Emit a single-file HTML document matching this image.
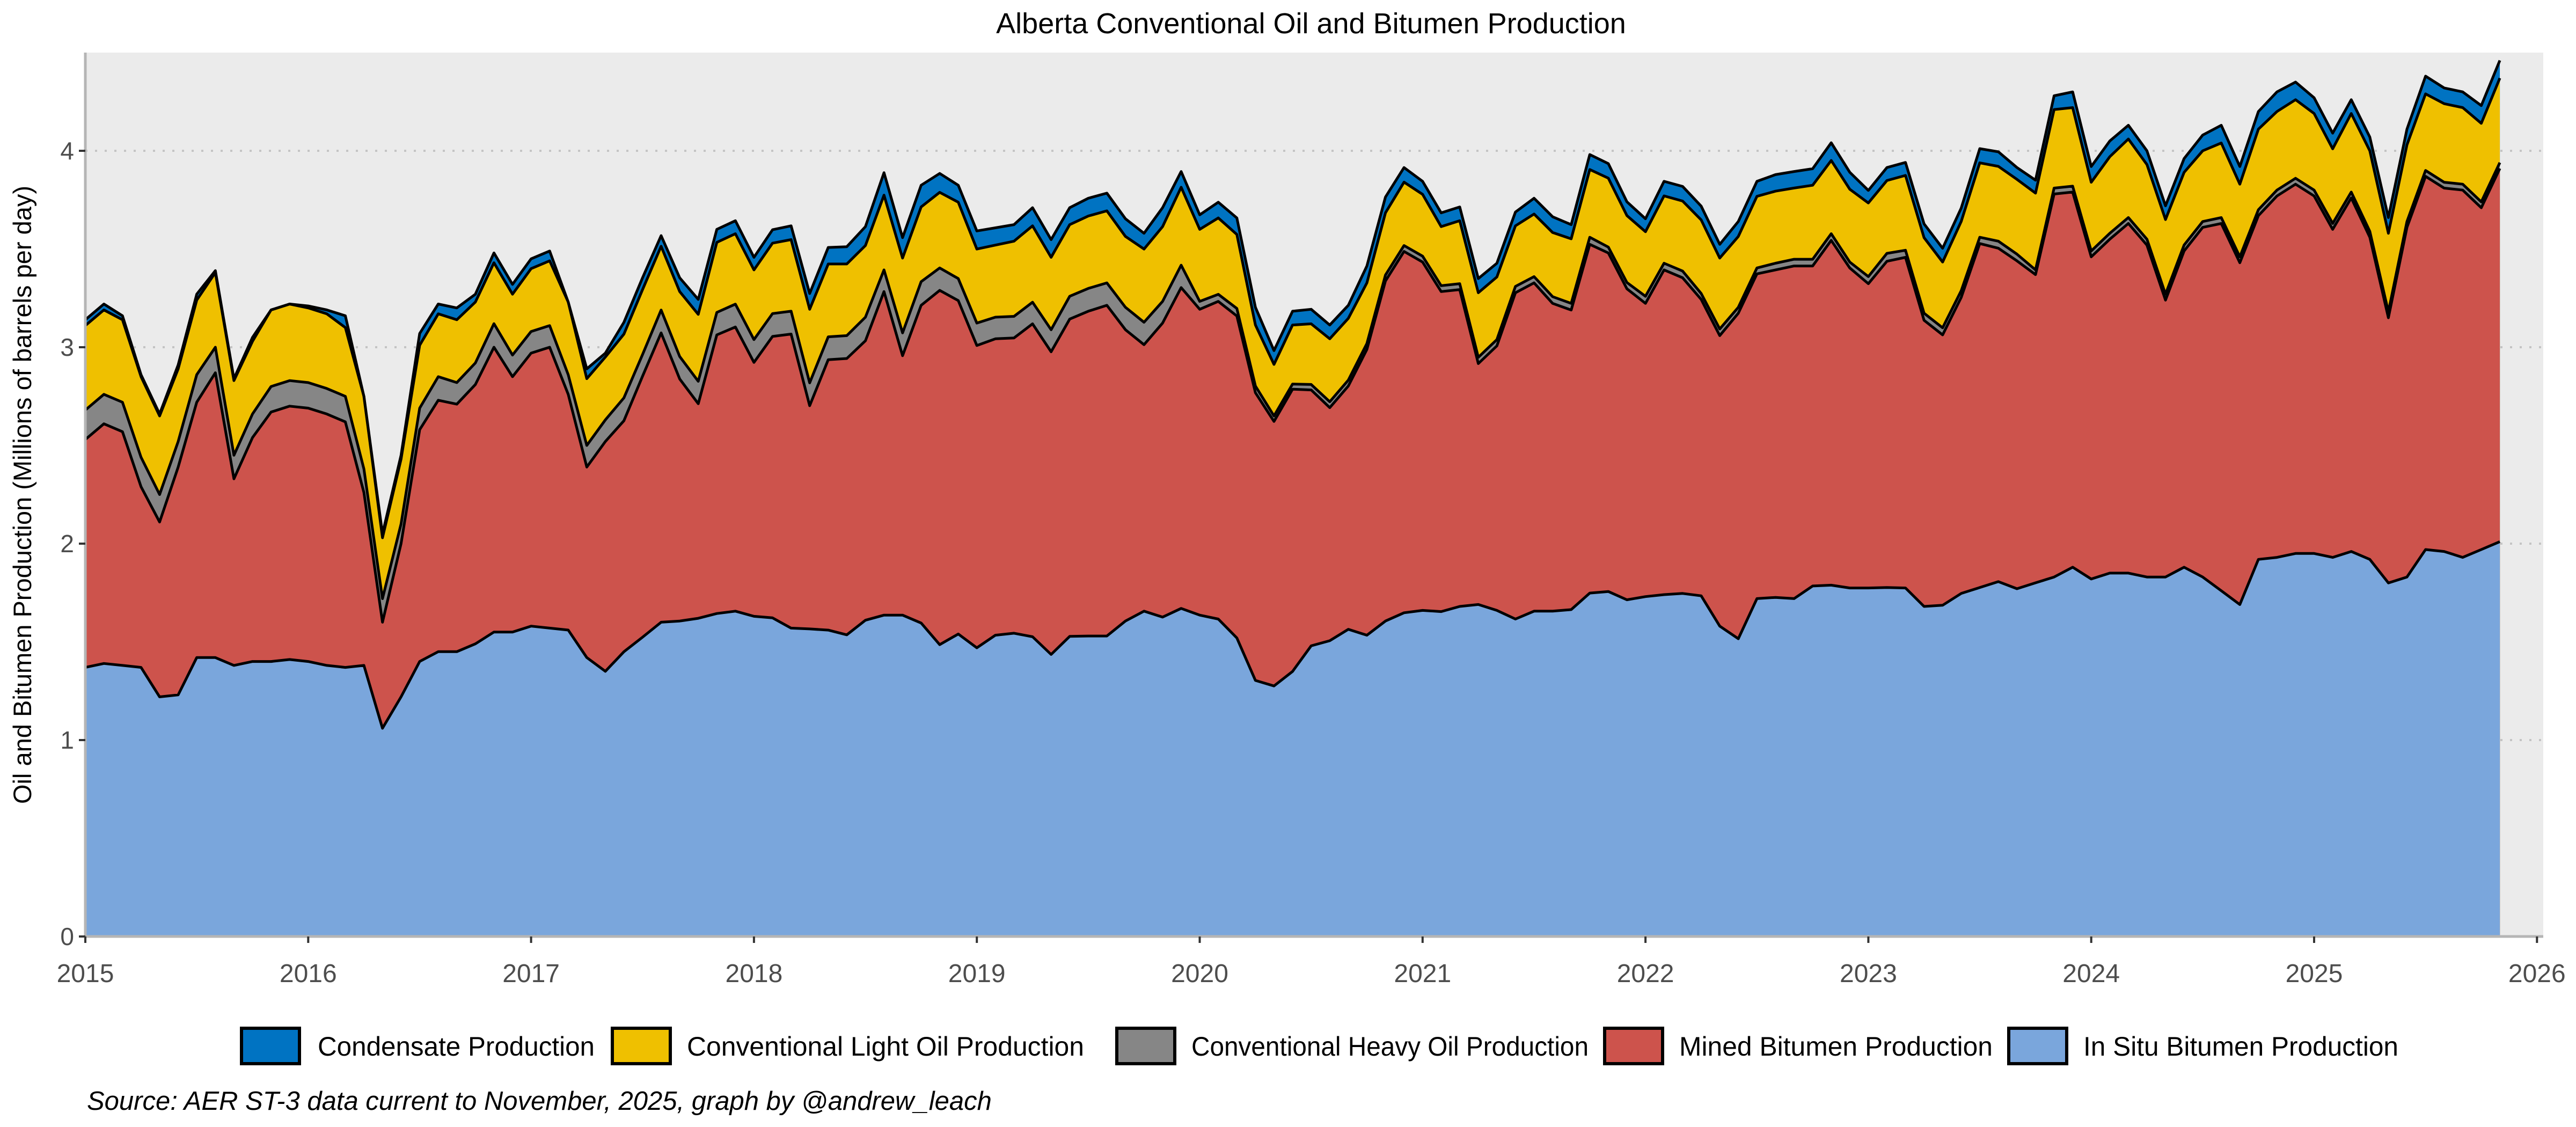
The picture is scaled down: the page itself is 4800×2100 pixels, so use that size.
<!DOCTYPE html>
<html><head><meta charset="utf-8"><style>html,body{margin:0;padding:0;background:#fff}svg{display:block}</style></head>
<body>
<svg id="s" xmlns="http://www.w3.org/2000/svg" width="4800" height="2100" viewBox="0 0 4800 2100" font-family="Liberation Sans, sans-serif">
<rect width="4800" height="2100" fill="#fff"/>
<rect x="159" y="98" width="4580" height="1647" fill="#ebebeb"/>
<g id="grid" stroke="#c4c4c4" stroke-width="4" stroke-dasharray="4,14"></g>
<g id="areas"></g>
<g id="lines" fill="none" stroke="#000" stroke-width="5" stroke-linejoin="round"></g>
<line x1="159" y1="98" x2="159" y2="1747" stroke="#b5b5b5" stroke-width="5"/>
<line x1="157" y1="1745" x2="4739" y2="1745" stroke="#b5b5b5" stroke-width="5"/>
<g id="ticks" stroke="#333" stroke-width="4"></g>
<g id="ylab" font-size="46" fill="#4d4d4d" text-anchor="end"></g>
<g id="xlab" font-size="48" fill="#4d4d4d" text-anchor="middle"></g>
<text x="2443" y="62" font-size="54" text-anchor="middle" fill="#000">Alberta Conventional Oil and Bitumen Production</text>
<text transform="translate(58,922) rotate(-90)" font-size="47" text-anchor="middle" fill="#000">Oil and Bitumen Production (Millions of barrels per day)</text>
<g font-size="50" fill="#000">
<rect x="450" y="1916" width="108" height="66" fill="#0073C2" stroke="#000" stroke-width="6"/>
<text x="592" y="1967" textLength="516" lengthAdjust="spacingAndGlyphs">Condensate Production</text>
<rect x="1141" y="1916" width="108" height="66" fill="#EFC000" stroke="#000" stroke-width="6"/>
<text x="1280" y="1967" textLength="740" lengthAdjust="spacingAndGlyphs">Conventional Light Oil Production</text>
<rect x="2081" y="1916" width="108" height="66" fill="#868686" stroke="#000" stroke-width="6"/>
<text x="2220" y="1967" textLength="740" lengthAdjust="spacingAndGlyphs">Conventional Heavy Oil Production</text>
<rect x="2990" y="1916" width="108" height="66" fill="#CD534C" stroke="#000" stroke-width="6"/>
<text x="3129" y="1967" textLength="584" lengthAdjust="spacingAndGlyphs">Mined Bitumen Production</text>
<rect x="3743" y="1916" width="108" height="66" fill="#7AA6DC" stroke="#000" stroke-width="6"/>
<text x="3882" y="1967" textLength="587" lengthAdjust="spacingAndGlyphs">In Situ Bitumen Production</text>
</g>
<text x="162" y="2068" font-size="49" font-style="italic" fill="#000">Source: AER ST-3 data current to November, 2025, graph by @andrew_leach</text>
</svg>
<script>
var A=[[3.14,3.11,2.68,2.53,1.37],[3.22,3.19,2.76,2.61,1.39],[3.16,3.14,2.72,2.57,1.38],[2.86,2.85,2.44,2.29,1.37],[2.66,2.65,2.25,2.11,1.22],[2.91,2.89,2.52,2.39,1.23],[3.27,3.24,2.86,2.72,1.42],[3.39,3.38,3.00,2.87,1.42],[2.84,2.83,2.45,2.33,1.38],[3.05,3.03,2.66,2.54,1.40],[3.19,3.19,2.80,2.67,1.40],[3.22,3.22,2.83,2.70,1.41],[3.21,3.20,2.82,2.69,1.40],[3.19,3.17,2.79,2.66,1.38],[3.16,3.10,2.75,2.62,1.37],[2.75,2.75,2.38,2.26,1.38],[2.05,2.03,1.72,1.60,1.06],[2.45,2.43,2.10,2.00,1.22],[3.07,3.01,2.69,2.58,1.40],[3.22,3.17,2.85,2.73,1.45],[3.20,3.14,2.82,2.71,1.45],[3.27,3.23,2.92,2.81,1.49],[3.48,3.43,3.12,3.00,1.55],[3.32,3.27,2.96,2.85,1.55],[3.45,3.40,3.08,2.97,1.58],[3.49,3.44,3.11,3.00,1.57],[3.23,3.23,2.86,2.76,1.56],[2.89,2.84,2.50,2.39,1.42],[2.97,2.95,2.63,2.52,1.35]];
var Z=[[478,508,670,728,1315],[365,395,560,615,1278],[258,285,447,505,1240],[365,400,565,622,1237],[420,458,628,685,1230],[242,275,453,510,1218],[220,253,432,490,1212],[313,345,522,580,1225],[243,277,456,514,1229],[233,268,450,508,1255],[405,445,632,690,1257],[288,330,515,573,1260],[286,330,512,570,1272],[235,283,465,525,1235],[98,155,345,400,1222],[263,315,505,563,1222],[130,185,375,435,1242],[100,148,340,397,1297],[130,173,367,423,1270],[246,292,480,537,1305],[238,282,465,520,1273],[230,272,463,518,1268],[187,233,427,482,1277],[268,313,497,553,1322],[187,230,412,470,1276],[163,208,392,450,1275],[150,195,378,435,1275],
[215,260,440,497,1237],[252,292,478,535,1212],[187,235,425,480,1227],[95,135,333,390,1205],[205,242,425,445,1222],[173,213,407,425,1232],[213,255,443,462,1280],[440,485,640,657,1388],[550,585,716,730,1402],[450,485,635,648,1365],[445,482,636,650,1300],[485,520,680,695,1287],[435,468,625,640,1258],[335,378,532,547,1273],[160,200,358,373,1237],[85,122,283,298,1216],[120,153,310,325,1210],[200,235,385,400,1213],[185,220,380,395,1200],[367,403,567,583,1195],[328,363,522,538,1210],[198,233,387,403,1232],[163,203,362,378,1212],[210,250,413,430,1212],[230,266,430,447,1208],[52,90,262,280,1166],
[75,112,287,302,1162],[172,207,377,393,1183],[215,248,412,430,1175],[120,157,328,345,1170],[133,170,348,365,1167],[183,218,405,420,1173],[280,315,495,512,1250],[222,260,440,455,1282],[120,158,340,355,1180],[103,145,328,345,1177],[95,137,318,335,1180],[88,130,318,335,1148],[22,67,253,270,1146],[97,140,325,340,1153],[143,175,362,380,1153],[85,118,303,323,1152],[72,105,295,313,1153],[228,263,455,473,1200],[290,325,492,510,1197],[188,222,398,415,1167],[37,73,262,278,1152],[45,82,272,290,1137],[85,115,305,322,1155],[117,150,345,357,1140]];
Z.forEach(function(r){A.push(r.map(function(x){return 4.085-0.002004*x;}));});
A.push([4.28,4.21,3.81,3.78,1.83]);A.push([4.30,4.22,3.82,3.79,1.88]);
var E=[[3.92,3.84,3.46,1.82],[4.05,3.97,3.55,1.85],[4.13,4.06,3.63,1.85],[4.00,3.93,3.52,1.83],[3.72,3.65,3.24,1.83],[3.96,3.89,3.49,1.88],[4.08,4.00,3.61,1.83],[4.13,4.04,3.63,1.76],[3.92,3.83,3.43,1.69],[4.20,4.11,3.67,1.92],[4.30,4.20,3.77,1.93],[4.35,4.26,3.83,1.95],[4.27,4.19,3.77,1.95],[4.09,4.01,3.60,1.93],[4.26,4.19,3.76,1.96],[4.07,4.00,3.56,1.92],[3.66,3.58,3.15,1.80],[4.11,4.03,3.61,1.83],[4.38,4.29,3.87,1.97],[4.32,4.24,3.81,1.96],[4.30,4.22,3.80,1.93],[4.23,4.14,3.71,1.97],[4.46,4.37,3.91,2.01]];
E.forEach(function(r){A.push([r[0],r[1],r[2]+0.03,r[2],r[3]]);});
var NS="http://www.w3.org/2000/svg";
function X(m){return 159+415.3*m/12;}function Y(v){return 1745-366*v;}
function el(t,a,p){var e=document.createElementNS(NS,t);for(var k in a)e.setAttribute(k,a[k]);p.appendChild(e);return e;}
var cols=["#0073C2","#EFC000","#868686","#CD534C","#7AA6DC"];
var areas=document.getElementById("areas"),lines=document.getElementById("lines");
var n=A.length;
for(var s=0;s<5;s++){var pts=[];for(var m=0;m<n;m++)pts.push(X(m).toFixed(1)+","+Y(A[m][s]).toFixed(1));
el("polygon",{points:X(0)+",1745 "+pts.join(" ")+" "+X(n-1).toFixed(1)+",1745",fill:cols[s]},areas);}
for(var s=0;s<5;s++){var pts=[];for(var m=0;m<n;m++)pts.push(X(m).toFixed(1)+","+Y(A[m][s]).toFixed(1));
el("polyline",{points:pts.join(" ")},lines);}
var g=document.getElementById("grid"),tk=document.getElementById("ticks"),yl=document.getElementById("ylab"),xl=document.getElementById("xlab");
for(var v=1;v<=4;v++)el("line",{x1:159,x2:4739,y1:Y(v),y2:Y(v)},g);
for(var v=0;v<=4;v++){el("line",{x1:147,x2:159,y1:Y(v),y2:Y(v)},tk);var t=el("text",{x:138,y:Y(v)+16},yl);t.textContent=v;}
for(var yr=0;yr<=11;yr++){var x=X(yr*12);el("line",{x1:x,x2:x,y1:1745,y2:1757},tk);var t=el("text",{x:x,y:1830},xl);t.textContent=2015+yr;}
</script>
</body></html>
